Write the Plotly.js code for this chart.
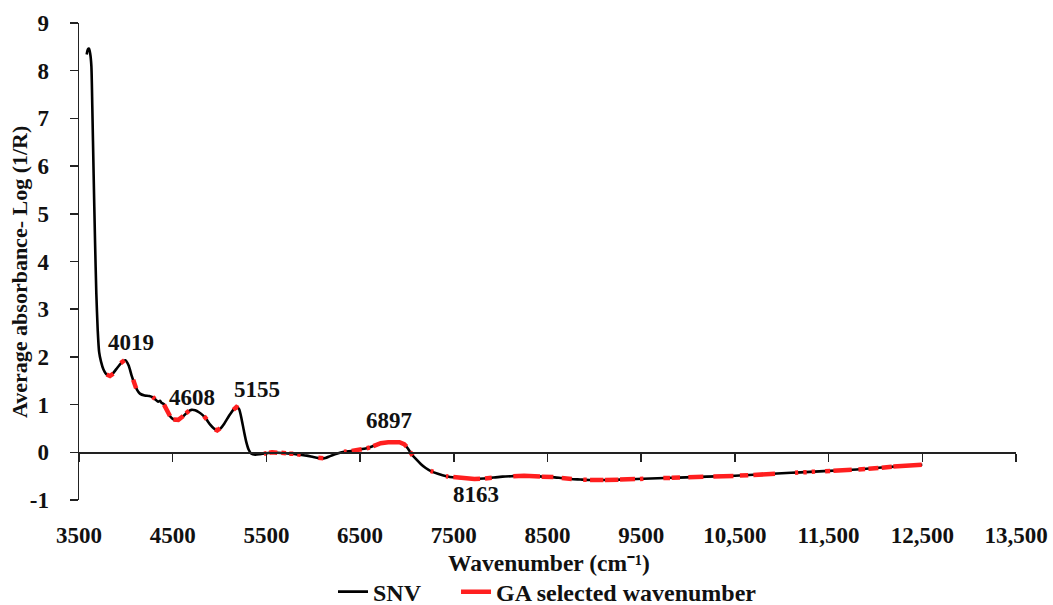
<!DOCTYPE html>
<html>
<head>
<meta charset="utf-8">
<script src="https://cdn.plot.ly/plotly-3.0.1.min.js"></script>
<style>html,body{margin:0;padding:0;background:#fff;}#chart{width:1053px;height:605px;}</style>
</head>
<body>
<div id="chart"></div>
<script>
// SNV average spectrum (wavenumber cm^-1, absorbance log(1/R))
var snvWavenumber = [3582,3595,3607,3620,3632,3642,3656,3671,3685,3700,3715,3735,3760,3790,3825,3860,3900,3950,3995,4030,4060,4090,4120,4150,4200,4250,4290,4320,4345,4365,4380,4410,4440,4470,4500,4540,4580,4620,4660,4700,4740,4780,4820,4860,4900,4940,4975,5010,5050,5100,5150,5185,5210,5235,5260,5285,5310,5340,5380,5430,5500,5560,5620,5700,5780,5850,5930,6000,6080,6130,6180,6250,6330,6420,6500,6580,6650,6720,6800,6860,6920,6970,7010,7050,7100,7150,7200,7260,7330,7420,7520,7620,7720,7820,7920,8020,8130,8250,8350,8450,8550,8650,8750,8850,8950,9050,9150,9300,9450,9600,9750,9900,10050,10200,10400,10600,10800,11000,11200,11400,11600,11800,12000,12200,12400,12500];
var snvAbsorbance = [8.34,8.45,8.46,8.35,8.10,7.24,5.84,4.44,3.33,2.55,2.10,1.90,1.74,1.64,1.60,1.65,1.75,1.87,1.93,1.82,1.62,1.45,1.31,1.23,1.19,1.18,1.15,1.10,1.06,1.08,1.04,1.00,0.88,0.76,0.70,0.67,0.70,0.77,0.85,0.89,0.88,0.84,0.78,0.69,0.58,0.50,0.46,0.50,0.60,0.76,0.90,0.95,0.90,0.70,0.45,0.22,0.06,-0.03,-0.05,-0.04,-0.02,0.00,-0.01,-0.02,-0.03,-0.05,-0.07,-0.10,-0.13,-0.12,-0.08,-0.03,0.01,0.03,0.06,0.09,0.14,0.19,0.21,0.22,0.21,0.17,0.08,-0.04,-0.15,-0.25,-0.33,-0.40,-0.45,-0.50,-0.53,-0.55,-0.56,-0.55,-0.53,-0.51,-0.50,-0.49,-0.50,-0.51,-0.52,-0.54,-0.56,-0.57,-0.58,-0.58,-0.58,-0.57,-0.56,-0.55,-0.54,-0.53,-0.52,-0.51,-0.50,-0.48,-0.46,-0.44,-0.42,-0.40,-0.38,-0.36,-0.33,-0.30,-0.27,-0.26];

// GA selected wavenumber segments (null separates segments)
var gaWavenumber = [3795,3830,3866,null,3945,3985,null,4078,4110,null,4286,4311,null,4407,4440,4471,null,4507,4560,4613,null,4642,4674,null,4834,4863,null,4951,4975,5005,null,5147,5180,5200,null,
5474,5503,null,5530,5560,5616,null,5660,5709,null,5744,5787,null,5830,5866,null,6054,6080,6107,null,6328,6357,null,6410,6517,null,6570,6605,null,6641,6720,6800,6860,6920,6970,6997,null,7033,7061,null,7253,7281,null,7417,7441,null,
7495,7620,7720,7780,null,7833,7905,null,8135,8250,8420,null,8438,8562,null,8652,8759,null,8882,8918,null,8954,9096,null,9113,9256,null,9274,9434,null,9487,9523,null,9736,9807,null,9825,9914,null,10003,10163,null,10270,10484,null,
10553,10642,null,10697,10928,null,11142,11175,null,11230,11266,null,11320,11356,null,11463,11516,null,11551,11747,null,11818,11889,null,11925,12031,null,12067,12174,null,12191,12494];
var gaAbsorbance = [1.63,1.60,1.65,null,1.87,1.93,null,1.52,1.34,null,1.16,1.12,null,1.00,0.88,0.76,null,0.69,0.68,0.76,null,0.82,0.87,null,0.76,0.69,null,0.48,0.46,0.50,null,0.89,0.95,0.93,null,
-0.03,-0.02,null,-0.01,0.00,-0.01,null,-0.01,-0.02,null,-0.03,-0.03,null,-0.04,-0.05,null,-0.115,-0.13,-0.125,null,0.01,0.015,null,0.03,0.065,null,0.085,0.10,null,0.13,0.19,0.21,0.22,0.21,0.17,0.12,null,0.01,-0.07,null,-0.39,-0.41,null,-0.50,-0.505,null,
-0.52,-0.55,-0.56,-0.555,null,-0.55,-0.535,null,-0.50,-0.49,-0.505,null,-0.51,-0.52,null,-0.54,-0.56,null,-0.575,-0.578,null,-0.58,-0.58,null,-0.58,-0.575,null,-0.57,-0.56,null,-0.56,-0.555,null,-0.54,-0.537,null,-0.535,-0.53,null,-0.523,-0.512,null,-0.507,-0.495,null,
-0.488,-0.48,null,-0.475,-0.45,null,-0.43,-0.425,null,-0.42,-0.417,null,-0.41,-0.405,null,-0.395,-0.39,null,-0.385,-0.365,null,-0.36,-0.35,null,-0.345,-0.33,null,-0.325,-0.305,null,-0.30,-0.26];

var xTickVals = [3500,4500,5500,6500,7500,8500,9500,10500,11500,12500,13500];
var xTickText = ['3500','4500','5500','6500','7500','8500','9500','10,500','11,500','12,500','13,500'];
var yTickVals = [-1,0,1,2,3,4,5,6,7,8,9];
var yTickText = ['-1','0','1','2','3','4','5','6','7','8','9'];

var peakLabels = ['4019','4608','5155','6897','8163'];
var peakLabelX = [4055,4706,5400,6808,7737];
var peakLabelY = [2.31,1.15,1.32,0.67,-0.88];

var xTitle = 'Wavenumber (cm\u207B\u00B9)';
var yTitle = 'Average absorbance- Log (1/R)';

var FONT = 'Liberation Serif, Times New Roman, serif';
var TXT = '#111111';

var traces = [
  {x: snvWavenumber, y: snvAbsorbance, type: 'scatter', mode: 'lines', name: 'SNV\u00A0\u00A0\u00A0\u00A0\u00A0',
   line: {color: '#000000', width: 2.6, shape: 'spline', smoothing: 0.6}},
  {x: gaWavenumber, y: gaAbsorbance, type: 'scatter', mode: 'lines', name: 'GA selected wavenumber',
   connectgaps: false, line: {color: '#ff1f1f', width: 4.5}}
];

var annotations = peakLabels.map(function(t, i){
  return {x: peakLabelX[i], y: peakLabelY[i], xref: 'x', yref: 'y', text: t, showarrow: false,
          font: {family: FONT, size: 23, color: TXT, weight: 700}};
});
annotations.push({x: 0.502, y: -0.132, xref: 'paper', yref: 'paper', text: xTitle, showarrow: false,
  xanchor: 'center', yanchor: 'middle', font: {family: FONT, size: 23.5, color: TXT, weight: 700}});
annotations.push({x: -0.063, y: 0.478, xref: 'paper', yref: 'paper', text: yTitle, showarrow: false, textangle: -90,
  xanchor: 'center', yanchor: 'middle', font: {family: FONT, size: 22, color: TXT, weight: 700}});

var layout = {
  width: 1053, height: 605,
  margin: {l: 79, r: 37, t: 23, b: 105, autoexpand: false},
  paper_bgcolor: '#ffffff', plot_bgcolor: 'rgba(0,0,0,0)',
  showlegend: true,
  legend: {orientation: 'h', x: 0.5, xanchor: 'center', y: -0.193, yanchor: 'middle',
           font: {family: FONT, size: 24, color: TXT, weight: 700}, itemwidth: 30, tracegroupgap: 0},
  xaxis: {range: [3500, 13500], anchor: 'free', position: 0.1, showline: true, linecolor: '#222', linewidth: 1.5,
          ticks: 'outside', ticklen: 8, tickwidth: 1.5, tickcolor: '#222', tickvals: xTickVals, ticktext: xTickText,
          showgrid: false, zeroline: false, ticklabelstandoff: 54, automargin: false,
          tickfont: {family: FONT, size: 23, color: TXT, weight: 700}},
  yaxis: {range: [-1, 9], showline: true, linecolor: '#222', linewidth: 1.5, ticks: 'outside', ticklen: 8, tickwidth: 1.5,
          tickcolor: '#222', tickvals: yTickVals, ticktext: yTickText, showgrid: false, zeroline: false, ticklabelstandoff: 16,
          automargin: false, tickfont: {family: FONT, size: 23, color: TXT, weight: 700}},
  annotations: annotations
};

Plotly.newPlot('chart', traces, layout, {staticPlot: true, displayModeBar: false});
</script>
</body>
</html>
